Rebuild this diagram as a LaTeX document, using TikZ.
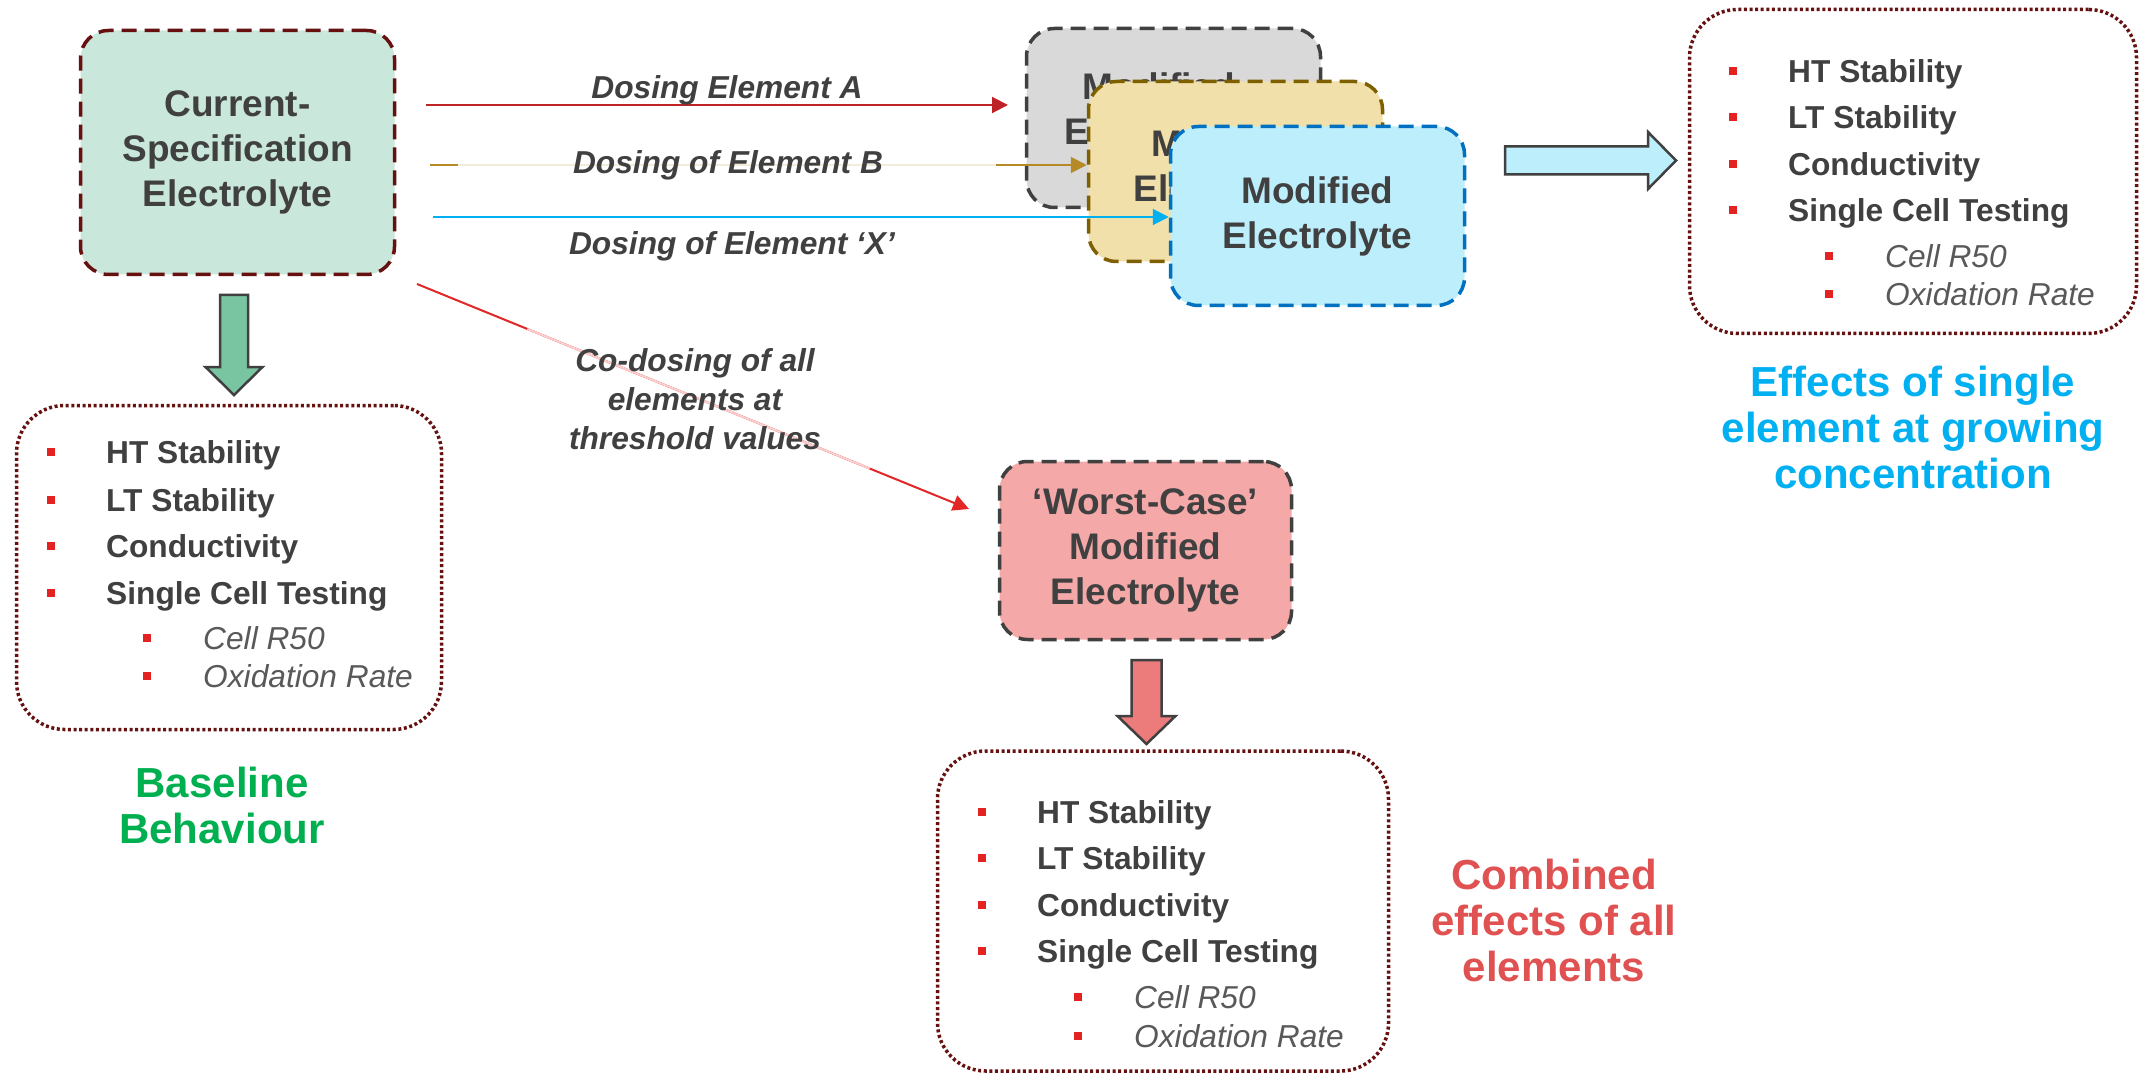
\documentclass[tikz,border=0pt]{standalone}
\usepackage{fontspec}
\setmainfont{Liberation Sans}
\usetikzlibrary{arrows.meta,calc}

\definecolor{txt}{HTML}{404040}
\definecolor{subtxt}{HTML}{595959}
\definecolor{bulred}{HTML}{E32322}
\definecolor{maroon}{HTML}{661010}
\definecolor{greenfill}{HTML}{C9E7DA}
\definecolor{grayfill}{HTML}{D9D9D9}
\definecolor{tanfill}{HTML}{F2E0AA}
\definecolor{tanedge}{HTML}{7F6000}
\definecolor{bluefill}{HTML}{BDEEFC}
\definecolor{blueedge}{HTML}{0070C0}
\definecolor{pinkfill}{HTML}{F4A8A8}
\definecolor{lineA}{HTML}{BE2328}
\definecolor{lineB}{HTML}{B68A26}
\definecolor{paleB}{HTML}{F3ECDA}
\definecolor{lineX}{HTML}{00B0F0}
\definecolor{lineC}{HTML}{E32626}
\definecolor{paleC}{HTML}{FAD0D0}
\definecolor{garrow}{HTML}{7AC5A1}
\definecolor{rarrow}{HTML}{EC7B7B}
\definecolor{capgreen}{HTML}{00B050}
\definecolor{capblue}{HTML}{00B0F0}
\definecolor{capred}{HTML}{E05252}

\newcommand\testlist[8]{%
  \node[bul] (#1b1) at (#2,#3) {};
  \node[itm] (#1t1) at (#2+55,#3) {HT Stability};
  \node[bul] (#1b2) at (#2,#4) {};
  \node[itm] (#1t2) at (#2+55,#4) {LT Stability};
  \node[bul] (#1b3) at (#2,#5) {};
  \node[itm] (#1t3) at (#2+55,#5) {Conductivity};
  \node[bul] (#1b4) at (#2,#6) {};
  \node[itm] (#1t4) at (#2+55,#6) {Single Cell Testing};
  \node[bul] (#1b5) at (#2+96,#7) {};
  \node[sitm] (#1t5) at (#2+152,#7) {Cell R50};
  \node[bul] (#1b6) at (#2+96,#8) {};
  \node[sitm] (#1t6) at (#2+152,#8) {Oxidation Rate};
}

\begin{document}
\begin{tikzpicture}[x=1pt,y=-1pt,
  boxtxt/.style={inner sep=0pt, align=center, font=\fontsize{37}{45}\selectfont\bfseries, text=txt},
  dbox/.style={boxtxt, draw, rounded corners=28pt, line width=3.5pt, dash pattern=on 15pt off 8pt},
  dotbox/.style={draw=maroon, rounded corners=48pt, line width=3.5pt, dash pattern=on 3pt off 2.6pt, inner sep=0pt},
  bul/.style={fill=bulred, minimum size=8.5pt, inner sep=0pt},
  itm/.style={anchor=west, inner sep=0pt, text height=22.7pt, text depth=0pt, font=\fontsize{31.7}{38}\selectfont\bfseries, text=txt},
  sitm/.style={itm, font=\fontsize{31.7}{38}\selectfont\itshape, text=subtxt},
  lbl/.style={inner sep=0pt, font=\fontsize{31.7}{39}\selectfont\bfseries\itshape, text=txt, align=center},
  lblone/.style={lbl, text height=22.7pt, text depth=0pt},
  captxt/.style={inner sep=0pt, font=\fontsize{42}{46}\selectfont\bfseries, align=center},
  blk/.style={draw=txt, line width=2.5pt, line join=miter},
  conn/.style={line width=2pt, -{Triangle[length=16pt,width=16pt]}},
]
\fill[white] (0,0) rectangle (2142,1075);
\useasboundingbox (0,0) rectangle (2142,1075);

% main boxes
\node[dbox, draw=maroon, fill=greenfill, minimum width=314pt, minimum height=244pt] (cur) at (237.5,152.5) {Current-\\Specification\\Electrolyte};

\node[dbox, draw=txt, fill=grayfill, minimum width=294pt, minimum height=179pt] (gray) at (1173.5,118) {};
\node[boxtxt] (grayT) at (1159,112) {Modified\\Electrolyte};
\node[dbox, draw=tanedge, fill=tanfill, minimum width=294pt, minimum height=180pt] (tan) at (1235.5,171.5) {};
\node[boxtxt] (tanT) at (1228,169) {Modified\\Electrolyte};
\node[dbox, draw=blueedge, fill=bluefill, minimum width=294pt, minimum height=179pt] (blue) at (1317.5,216) {Modified\\Electrolyte};

\node[dbox, draw=txt, fill=pinkfill, minimum width=292pt, minimum height=178pt] (worst) at (1145.5,550.5) {‘Worst-Case’\\Modified\\Electrolyte};

% dotted result boxes
\node[dotbox, minimum width=425pt, minimum height=324pt] (L) at (229,567.5) {};
\node[dotbox, minimum width=447pt, minimum height=324pt] (R) at (1913,171.5) {};
\node[dotbox, minimum width=451pt, minimum height=320pt] (B) at (1163,911) {};

\testlist{L}{51}{452}{500}{546}{593}{638}{676}
\testlist{R}{1733}{71}{117}{164}{210}{256}{294}
\testlist{B}{982}{812}{858}{905}{951}{997}{1036}

% captions
\node[captxt, text=capgreen] (capL) at (222,805) {Baseline\\Behaviour};
\node[captxt, text=capblue] (capR) at (1913,427) {Effects of single\\element at growing\\concentration};
\node[captxt, text=capred] (capB) at (1554,920) {Combined\\effects of all\\elements};

% block arrows
\draw[blk, fill=garrow] (220,295) -- (248,295) -- (248,367) -- (262.5,367) -- (234,395) -- (205.5,367) -- (220,367) -- cycle;
\draw[blk, fill=rarrow] (1131.5,660) -- (1161.5,660) -- (1161.5,716) -- (1175.5,716) -- (1146.5,744) -- (1117.5,716) -- (1131.5,716) -- cycle;
\draw[blk, fill=bluefill] (1505,146.5) -- (1648,146.5) -- (1648,132) -- (1676,160.5) -- (1648,189) -- (1648,174.5) -- (1505,174.5) -- cycle;

% connectors
\coordinate (aS) at (426,105);
\coordinate (aE) at (1008,105);
\draw[conn, lineA] (aS) -- (aE);

\coordinate (bS) at (430,165);
\coordinate (bE) at (tan.west |- bS);
\draw[conn, lineB] (bS) -- (bE);
\draw[paleB, line width=2pt] ($(bS)!0.043!(bE)$) -- ($(bS)!0.862!(bE)$);

\coordinate (xS) at (433,217);
\coordinate (xE) at (blue.west |- xS);
\draw[conn, lineX] (xS) -- (xE);

\coordinate (cS) at (417,284);
\coordinate (cE) at (969,509);
\draw[conn, lineC] (cS) -- (cE);
\draw[paleC, line width=2pt] ($(cS)!0.20!(cE)$) -- ($(cS)!0.82!(cE)$);

% connector labels
\node[lblone] (lA) at (727,87) {Dosing Element A};
\node[lblone] (lB) at (728,162) {Dosing of Element B};
\node[lblone] (lX) at (732,243) {Dosing of Element ‘X’};
\node[lbl] (lC) at (695,399) {Co-dosing of all\\elements at\\threshold values};
\end{tikzpicture}
\end{document}
